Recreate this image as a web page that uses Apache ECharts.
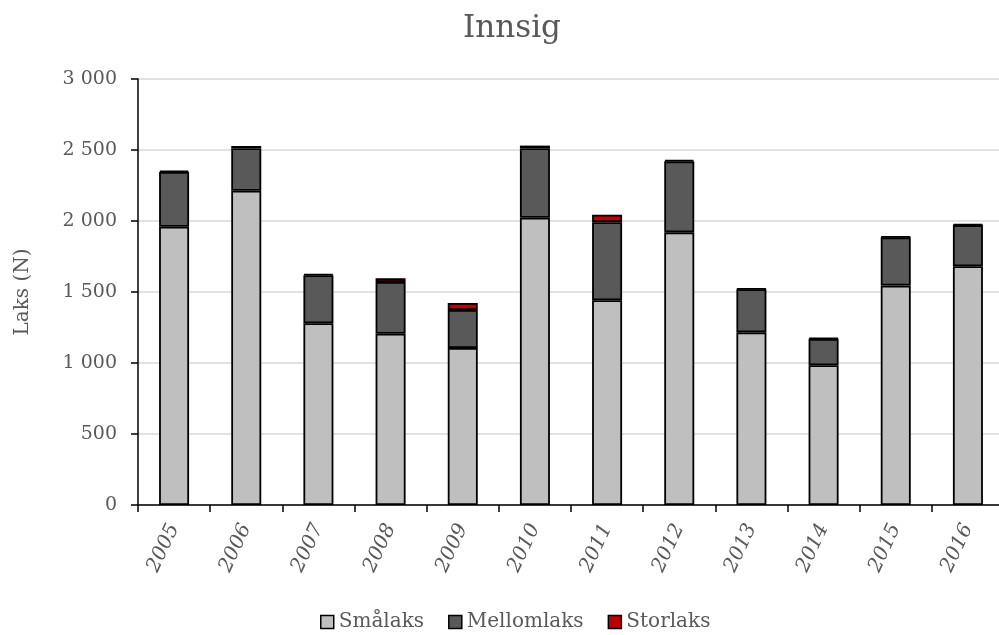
<!DOCTYPE html>
<html>
<head>
<meta charset="utf-8">
<script src="https://cdn.jsdelivr.net/npm/echarts@6/dist/echarts.min.js"></script>
<style>
html,body{margin:0;padding:0;background:#fff;overflow:hidden;}
#chart{width:1010px;height:635px;}
</style>
</head>
<body>
<div id="chart"></div>
<script>
const years = ['2005','2006','2007','2008','2009','2010','2011','2012','2013','2014','2015','2016'];
const smalaks = [1960, 2213, 1280, 1206, 1106, 2023, 1442, 1920, 1216, 984, 1545, 1681];
const mellomlaks = [385, 300, 338, 364, 267, 490, 550, 500, 303, 186, 340, 290];
const storlaks = [10, 15, 8, 27, 50, 18, 52, 10, 6, 8, 6, 6];
const yTicks = [0, 500, 1000, 1500, 2000, 2500, 3000];

const FONT = 'DejaVu Serif';
const TXT = '#595959';
const chart = echarts.init(document.getElementById('chart'));

function fmt(v){ return String(v).replace(/\B(?=(\d{3})+(?!\d))/g, ' '); }

function barSeries(name, data, color){
  return {
    name: name, type: 'bar', stack: 'total', data: data, barWidth: 30,
    itemStyle: { color: color, borderColor: '#000', borderWidth: 1.8 },
    emphasis: { disabled: true }
  };
}

chart.setOption({
  animation: false,
  backgroundColor: '#fff',
  title: {
    text: 'Innsig', left: 507, top: 8, textAlign: 'center',
    textStyle: { fontFamily: FONT, fontSize: 31, fontWeight: 'normal', color: TXT }
  },
  legend: {
    bottom: -2, left: 315, itemWidth: 13, itemHeight: 13, itemGap: 24,
    icon: 'rect',
    itemStyle: { borderColor: '#000', borderWidth: 1.5 },
    textStyle: { fontFamily: FONT, fontSize: 20, color: TXT },
    data: ['Smålaks', 'Mellomlaks', 'Storlaks']
  },
  grid: { left: 138, right: 6, top: 79, bottom: 130, containLabel: false },
  xAxis: {
    type: 'category', data: years,
    axisLine: { lineStyle: { color: '#000', width: 1.5 } },
    axisTick: { show: true, length: 7, lineStyle: { color: '#000', width: 1.5 } },
    axisLabel: { rotate: 65, margin: 20, fontFamily: FONT, fontStyle: 'italic', fontSize: 20, color: TXT }
  },
  yAxis: {
    type: 'value', min: yTicks[0], max: yTicks[yTicks.length-1], interval: yTicks[1]-yTicks[0],
    name: 'Laks (N)', nameLocation: 'middle', nameGap: 105, nameRotate: 90,
    nameTextStyle: { fontFamily: FONT, fontSize: 20, color: TXT },
    axisLine: { show: true, lineStyle: { color: '#000', width: 1.5 } },
    axisTick: { show: true, length: 7, lineStyle: { color: '#000', width: 1.5 } },
    axisLabel: { margin: 21, fontFamily: FONT, fontSize: 19, color: TXT, formatter: v => fmt(v) },
    splitLine: { lineStyle: { color: '#D9D9D9', width: 1.5 } }
  },
  series: [
    barSeries('Smålaks', smalaks, '#BFBFBF'),
    barSeries('Mellomlaks', mellomlaks, '#595959'),
    barSeries('Storlaks', storlaks, '#C00000')
  ]
});
</script>
</body>
</html>
